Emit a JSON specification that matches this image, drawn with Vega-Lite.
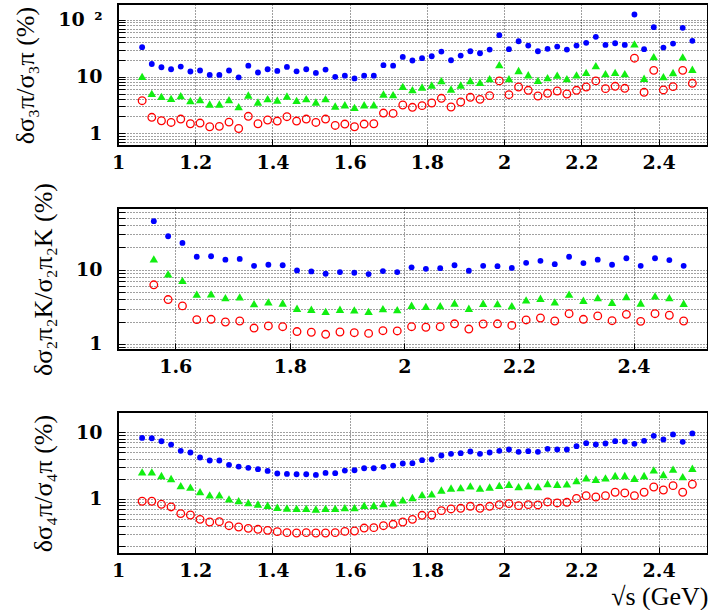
{
  "$schema": "https://vega.github.io/schema/vega-lite/v6.json",
  "padding": {"left": 11, "top": 3, "right": 0, "bottom": 0},
  "background": "white",
  "spacing": 62,
  "bounds": "flush",
  "config": {
    "view": {"stroke": "black", "strokeWidth": 2},
    "axis": {
      "domain": false, "ticks": true, "tickSize": -7, "tickColor": "black", "tickWidth": 1, "grid": true,
      "gridColor": "#000000", "gridDash": [1, 2], "gridWidth": 1, "gridOpacity": 0.75,
      "labelFont": "DejaVu Serif", "labelFontWeight": "bold", "labelFontSize": 19, "labelColor": "black",
      "titleFont": "Liberation Serif", "titleFontWeight": "normal", "titleFontSize": 26, "titleColor": "black",
      "labelOverlap": false, "labelFlush": false, "labelBound": false
    }
  },
  "datasets": {
    "p1": [
      {"x":1.0625,"s":"b","y":33},{"x":1.0875,"s":"b","y":16.7},{"x":1.1125,"s":"b","y":14.6},{"x":1.1375,"s":"b","y":13.5},{"x":1.1625,"s":"b","y":15.0},{"x":1.1875,"s":"b","y":12.3},{"x":1.2125,"s":"b","y":12.8},{"x":1.2375,"s":"b","y":10.7},{"x":1.2625,"s":"b","y":10.7},{"x":1.2875,"s":"b","y":12.8},
      {"x":1.3125,"s":"b","y":9.7},{"x":1.3375,"s":"b","y":15.6},{"x":1.3625,"s":"b","y":11.8},{"x":1.3875,"s":"b","y":13.5},{"x":1.4125,"s":"b","y":12.6},{"x":1.4375,"s":"b","y":14.8},{"x":1.4625,"s":"b","y":12.4},{"x":1.4875,"s":"b","y":13.5},{"x":1.5125,"s":"b","y":11.6},{"x":1.5375,"s":"b","y":13.3},
      {"x":1.5625,"s":"b","y":9.9},{"x":1.5875,"s":"b","y":10.4},{"x":1.6125,"s":"b","y":9.3},{"x":1.6375,"s":"b","y":10.4},{"x":1.6625,"s":"b","y":10.4},{"x":1.6875,"s":"b","y":15.9},{"x":1.7125,"s":"b","y":15.6},{"x":1.7375,"s":"b","y":22.2},{"x":1.7625,"s":"b","y":19.2},{"x":1.7875,"s":"b","y":21.1},
      {"x":1.8125,"s":"b","y":22.8},{"x":1.8375,"s":"b","y":27.6},{"x":1.8625,"s":"b","y":19.4},{"x":1.8875,"s":"b","y":23.5},{"x":1.9125,"s":"b","y":28},{"x":1.9375,"s":"b","y":25.8},{"x":1.9625,"s":"b","y":29.9},{"x":1.9875,"s":"b","y":53.6},{"x":2.0125,"s":"b","y":30.4},{"x":2.0375,"s":"b","y":42},
      {"x":2.0625,"s":"b","y":35.2},{"x":2.0875,"s":"b","y":28},{"x":2.1125,"s":"b","y":30.8},{"x":2.1375,"s":"b","y":33.8},{"x":2.1625,"s":"b","y":29.9},{"x":2.1875,"s":"b","y":35.2},{"x":2.2125,"s":"b","y":39.3},{"x":2.2375,"s":"b","y":50.1},{"x":2.2625,"s":"b","y":36.2},{"x":2.2875,"s":"b","y":38.7},
      {"x":2.3125,"s":"b","y":36.2},{"x":2.3375,"s":"b","y":124},{"x":2.3625,"s":"b","y":30.4},{"x":2.3875,"s":"b","y":74.2},{"x":2.4125,"s":"b","y":32.5},{"x":2.4375,"s":"b","y":38.2},{"x":2.4625,"s":"b","y":72.3},{"x":2.4875,"s":"b","y":42.6},
      {"x":1.0625,"s":"g","y":10.1},{"x":1.0875,"s":"g","y":5.08},{"x":1.1125,"s":"g","y":4.5},{"x":1.1375,"s":"g","y":4.15},{"x":1.1625,"s":"g","y":4.62},{"x":1.1875,"s":"g","y":3.77},{"x":1.2125,"s":"g","y":3.93},{"x":1.2375,"s":"g","y":3.29},{"x":1.2625,"s":"g","y":3.29},{"x":1.2875,"s":"g","y":3.93},
      {"x":1.3125,"s":"g","y":2.96},{"x":1.3375,"s":"g","y":4.75},{"x":1.3625,"s":"g","y":3.57},{"x":1.3875,"s":"g","y":4.09},{"x":1.4125,"s":"g","y":3.88},{"x":1.4375,"s":"g","y":4.56},{"x":1.4625,"s":"g","y":3.82},{"x":1.4875,"s":"g","y":4.09},{"x":1.5125,"s":"g","y":3.57},{"x":1.5375,"s":"g","y":4.09},
      {"x":1.5625,"s":"g","y":3.04},{"x":1.5875,"s":"g","y":3.2},{"x":1.6125,"s":"g","y":2.88},{"x":1.6375,"s":"g","y":3.2},{"x":1.6625,"s":"g","y":3.2},{"x":1.6875,"s":"g","y":4.94},{"x":1.7125,"s":"g","y":4.81},{"x":1.7375,"s":"g","y":6.75},{"x":1.7625,"s":"g","y":5.9},{"x":1.7875,"s":"g","y":6.57},
      {"x":1.8125,"s":"g","y":7.13},{"x":1.8375,"s":"g","y":8.5},{"x":1.8625,"s":"g","y":6.06},{"x":1.8875,"s":"g","y":7.13},{"x":1.9125,"s":"g","y":8.5},{"x":1.9375,"s":"g","y":7.94},{"x":1.9625,"s":"g","y":9.22},{"x":1.9875,"s":"g","y":16.3},{"x":2.0125,"s":"g","y":9.22},{"x":2.0375,"s":"g","y":12.8},
      {"x":2.0625,"s":"g","y":10.8},{"x":2.0875,"s":"g","y":8.6},{"x":2.1125,"s":"g","y":9.6},{"x":2.1375,"s":"g","y":10.6},{"x":2.1625,"s":"g","y":9.22},{"x":2.1875,"s":"g","y":10.7},{"x":2.2125,"s":"g","y":11.9},{"x":2.2375,"s":"g","y":15.6},{"x":2.2625,"s":"g","y":11.3},{"x":2.2875,"s":"g","y":11.9},
      {"x":2.3125,"s":"g","y":11.3},{"x":2.3375,"s":"g","y":37.7},{"x":2.3625,"s":"g","y":9.35},{"x":2.3875,"s":"g","y":22.5},{"x":2.4125,"s":"g","y":10},{"x":2.4375,"s":"g","y":11.8},{"x":2.4625,"s":"g","y":22.2},{"x":2.4875,"s":"g","y":13.5},
      {"x":1.0625,"s":"r","y":3.77},{"x":1.0875,"s":"r","y":1.92},{"x":1.1125,"s":"r","y":1.67},{"x":1.1375,"s":"r","y":1.56},{"x":1.1625,"s":"r","y":1.79},{"x":1.1875,"s":"r","y":1.48},{"x":1.2125,"s":"r","y":1.52},{"x":1.2375,"s":"r","y":1.31},{"x":1.2625,"s":"r","y":1.33},{"x":1.2875,"s":"r","y":1.58},
      {"x":1.3125,"s":"r","y":1.22},{"x":1.3375,"s":"r","y":2.0},{"x":1.3625,"s":"r","y":1.48},{"x":1.3875,"s":"r","y":1.72},{"x":1.4125,"s":"r","y":1.65},{"x":1.4375,"s":"r","y":1.97},{"x":1.4625,"s":"r","y":1.65},{"x":1.4875,"s":"r","y":1.79},{"x":1.5125,"s":"r","y":1.56},{"x":1.5375,"s":"r","y":1.79},
      {"x":1.5625,"s":"r","y":1.38},{"x":1.5875,"s":"r","y":1.46},{"x":1.6125,"s":"r","y":1.31},{"x":1.6375,"s":"r","y":1.46},{"x":1.6625,"s":"r","y":1.48},{"x":1.6875,"s":"r","y":2.28},{"x":1.7125,"s":"r","y":2.25},{"x":1.7375,"s":"r","y":3.16},{"x":1.7625,"s":"r","y":2.88},{"x":1.7875,"s":"r","y":3.08},
      {"x":1.8125,"s":"r","y":3.43},{"x":1.8375,"s":"r","y":4.15},{"x":1.8625,"s":"r","y":2.92},{"x":1.8875,"s":"r","y":3.57},{"x":1.9125,"s":"r","y":4.32},{"x":1.9375,"s":"r","y":3.98},{"x":1.9625,"s":"r","y":4.62},{"x":1.9875,"s":"r","y":8.4},{"x":2.0125,"s":"r","y":4.81},{"x":2.0375,"s":"r","y":6.57},
      {"x":2.0625,"s":"r","y":5.74},{"x":2.0875,"s":"r","y":4.56},{"x":2.1125,"s":"r","y":5.08},{"x":2.1375,"s":"r","y":5.58},{"x":2.1625,"s":"r","y":4.94},{"x":2.1875,"s":"r","y":5.74},{"x":2.2125,"s":"r","y":6.57},{"x":2.2375,"s":"r","y":8.4},{"x":2.2625,"s":"r","y":6.14},{"x":2.2875,"s":"r","y":6.75},
      {"x":2.3125,"s":"r","y":6.22},{"x":2.3375,"s":"r","y":21.1},{"x":2.3625,"s":"r","y":5.29},{"x":2.3875,"s":"r","y":12.9},{"x":2.4125,"s":"r","y":5.82},{"x":2.4375,"s":"r","y":6.66},{"x":2.4625,"s":"r","y":12.9},{"x":2.4875,"s":"r","y":7.62}
    ],
    "p2": [
      {"x":1.5625,"s":"b","y":45.2},{"x":1.5875,"s":"b","y":28.3},{"x":1.6125,"s":"b","y":23.0},{"x":1.6375,"s":"b","y":15.0},{"x":1.6625,"s":"b","y":15.2},{"x":1.6875,"s":"b","y":13.7},{"x":1.7125,"s":"b","y":14.0},{"x":1.7375,"s":"b","y":11.3},{"x":1.7625,"s":"b","y":11.7},{"x":1.7875,"s":"b","y":11.5},
      {"x":1.8125,"s":"b","y":9.8},{"x":1.8375,"s":"b","y":9.5},{"x":1.8625,"s":"b","y":8.84},{"x":1.8875,"s":"b","y":9.31},{"x":1.9125,"s":"b","y":9.12},{"x":1.9375,"s":"b","y":8.75},{"x":1.9625,"s":"b","y":9.6},{"x":1.9875,"s":"b","y":9.31},{"x":2.0125,"s":"b","y":10.8},{"x":2.0375,"s":"b","y":10.3},
      {"x":2.0625,"s":"b","y":10.5},{"x":2.0875,"s":"b","y":11.5},{"x":2.1125,"s":"b","y":9.7},{"x":2.1375,"s":"b","y":11.3},{"x":2.1625,"s":"b","y":11.2},{"x":2.1875,"s":"b","y":10.6},{"x":2.2125,"s":"b","y":12.4},{"x":2.2375,"s":"b","y":13.2},{"x":2.2625,"s":"b","y":11.9},{"x":2.2875,"s":"b","y":15.0},
      {"x":2.3125,"s":"b","y":12.3},{"x":2.3375,"s":"b","y":13.7},{"x":2.3625,"s":"b","y":11.7},{"x":2.3875,"s":"b","y":14.3},{"x":2.4125,"s":"b","y":11.3},{"x":2.4375,"s":"b","y":14.3},{"x":2.4625,"s":"b","y":13.5},{"x":2.4875,"s":"b","y":11.3},
      {"x":1.5625,"s":"g","y":14.0},{"x":1.5875,"s":"g","y":8.8},{"x":1.6125,"s":"g","y":7.2},{"x":1.6375,"s":"g","y":4.69},{"x":1.6625,"s":"g","y":4.74},{"x":1.6875,"s":"g","y":4.22},{"x":1.7125,"s":"g","y":4.31},{"x":1.7375,"s":"g","y":3.5},{"x":1.7625,"s":"g","y":3.69},{"x":1.7875,"s":"g","y":3.57},
      {"x":1.8125,"s":"g","y":3.03},{"x":1.8375,"s":"g","y":2.94},{"x":1.8625,"s":"g","y":2.75},{"x":1.8875,"s":"g","y":2.94},{"x":1.9125,"s":"g","y":2.88},{"x":1.9375,"s":"g","y":2.75},{"x":1.9625,"s":"g","y":3.0},{"x":1.9875,"s":"g","y":2.9},{"x":2.0125,"s":"g","y":3.33},{"x":2.0375,"s":"g","y":3.22},
      {"x":2.0625,"s":"g","y":3.29},{"x":2.0875,"s":"g","y":3.57},{"x":2.1125,"s":"g","y":3.03},{"x":2.1375,"s":"g","y":3.54},{"x":2.1625,"s":"g","y":3.5},{"x":2.1875,"s":"g","y":3.29},{"x":2.2125,"s":"g","y":3.93},{"x":2.2375,"s":"g","y":4.14},{"x":2.2625,"s":"g","y":3.69},{"x":2.2875,"s":"g","y":4.69},
      {"x":2.3125,"s":"g","y":3.88},{"x":2.3375,"s":"g","y":4.22},{"x":2.3625,"s":"g","y":3.65},{"x":2.3875,"s":"g","y":4.36},{"x":2.4125,"s":"g","y":3.57},{"x":2.4375,"s":"g","y":4.45},{"x":2.4625,"s":"g","y":4.22},{"x":2.4875,"s":"g","y":3.54},
      {"x":1.5625,"s":"r","y":6.27},{"x":1.5875,"s":"r","y":3.97},{"x":1.6125,"s":"r","y":3.26},{"x":1.6375,"s":"r","y":2.13},{"x":1.6625,"s":"r","y":2.15},{"x":1.6875,"s":"r","y":1.98},{"x":1.7125,"s":"r","y":2.04},{"x":1.7375,"s":"r","y":1.64},{"x":1.7625,"s":"r","y":1.75},{"x":1.7875,"s":"r","y":1.71},
      {"x":1.8125,"s":"r","y":1.47},{"x":1.8375,"s":"r","y":1.44},{"x":1.8625,"s":"r","y":1.35},{"x":1.8875,"s":"r","y":1.45},{"x":1.9125,"s":"r","y":1.42},{"x":1.9375,"s":"r","y":1.39},{"x":1.9625,"s":"r","y":1.51},{"x":1.9875,"s":"r","y":1.5},{"x":2.0125,"s":"r","y":1.71},{"x":2.0375,"s":"r","y":1.68},
      {"x":2.0625,"s":"r","y":1.71},{"x":2.0875,"s":"r","y":1.87},{"x":2.1125,"s":"r","y":1.59},{"x":2.1375,"s":"r","y":1.86},{"x":2.1625,"s":"r","y":1.87},{"x":2.1875,"s":"r","y":1.78},{"x":2.2125,"s":"r","y":2.11},{"x":2.2375,"s":"r","y":2.24},{"x":2.2625,"s":"r","y":2.04},{"x":2.2875,"s":"r","y":2.56},
      {"x":2.3125,"s":"r","y":2.15},{"x":2.3375,"s":"r","y":2.39},{"x":2.3625,"s":"r","y":2.06},{"x":2.3875,"s":"r","y":2.51},{"x":2.4125,"s":"r","y":2.02},{"x":2.4375,"s":"r","y":2.56},{"x":2.4625,"s":"r","y":2.44},{"x":2.4875,"s":"r","y":2.04}
    ],
    "p3": [
      {"x":1.0625,"s":"b","y":8.2},{"x":1.0875,"s":"b","y":8.1},{"x":1.1125,"s":"b","y":7.3},{"x":1.1375,"s":"b","y":6.5},{"x":1.1625,"s":"b","y":5.25},{"x":1.1875,"s":"b","y":4.95},{"x":1.2125,"s":"b","y":4.17},{"x":1.2375,"s":"b","y":3.76},{"x":1.2625,"s":"b","y":3.76},{"x":1.2875,"s":"b","y":3.24},
      {"x":1.3125,"s":"b","y":3.05},{"x":1.3375,"s":"b","y":2.92},{"x":1.3625,"s":"b","y":2.79},{"x":1.3875,"s":"b","y":2.63},{"x":1.4125,"s":"b","y":2.4},{"x":1.4375,"s":"b","y":2.37},{"x":1.4625,"s":"b","y":2.34},{"x":1.4875,"s":"b","y":2.34},{"x":1.5125,"s":"b","y":2.29},{"x":1.5375,"s":"b","y":2.45},
      {"x":1.5625,"s":"b","y":2.43},{"x":1.5875,"s":"b","y":2.66},{"x":1.6125,"s":"b","y":2.69},{"x":1.6375,"s":"b","y":2.88},{"x":1.6625,"s":"b","y":2.88},{"x":1.6875,"s":"b","y":3.02},{"x":1.7125,"s":"b","y":3.16},{"x":1.7375,"s":"b","y":3.39},{"x":1.7625,"s":"b","y":3.43},{"x":1.7875,"s":"b","y":3.8},
      {"x":1.8125,"s":"b","y":3.89},{"x":1.8375,"s":"b","y":4.47},{"x":1.8625,"s":"b","y":4.73},{"x":1.8875,"s":"b","y":4.84},{"x":1.9125,"s":"b","y":5.13},{"x":1.9375,"s":"b","y":4.73},{"x":1.9625,"s":"b","y":4.95},{"x":1.9875,"s":"b","y":5.25},{"x":2.0125,"s":"b","y":5.5},{"x":2.0375,"s":"b","y":5.07},
      {"x":2.0625,"s":"b","y":5.19},{"x":2.0875,"s":"b","y":5.07},{"x":2.1125,"s":"b","y":5.62},{"x":2.1375,"s":"b","y":5.5},{"x":2.1625,"s":"b","y":5.5},{"x":2.1875,"s":"b","y":6.17},{"x":2.2125,"s":"b","y":6.84},{"x":2.2375,"s":"b","y":6.53},{"x":2.2625,"s":"b","y":6.76},{"x":2.2875,"s":"b","y":7.33},
      {"x":2.3125,"s":"b","y":7.24},{"x":2.3375,"s":"b","y":6.68},{"x":2.3625,"s":"b","y":7.41},{"x":2.3875,"s":"b","y":8.81},{"x":2.4125,"s":"b","y":7.76},{"x":2.4375,"s":"b","y":9.23},{"x":2.4625,"s":"b","y":7.16},{"x":2.4875,"s":"b","y":9.55},
      {"x":1.0625,"s":"g","y":2.54},{"x":1.0875,"s":"g","y":2.54},{"x":1.1125,"s":"g","y":2.24},{"x":1.1375,"s":"g","y":2.02},{"x":1.1625,"s":"g","y":1.58},{"x":1.1875,"s":"g","y":1.5},{"x":1.2125,"s":"g","y":1.29},{"x":1.2375,"s":"g","y":1.15},{"x":1.2625,"s":"g","y":1.15},{"x":1.2875,"s":"g","y":1.0},
      {"x":1.3125,"s":"g","y":0.944},{"x":1.3375,"s":"g","y":0.881},{"x":1.3625,"s":"g","y":0.841},{"x":1.3875,"s":"g","y":0.804},{"x":1.4125,"s":"g","y":0.75},{"x":1.4375,"s":"g","y":0.733},{"x":1.4625,"s":"g","y":0.724},{"x":1.4875,"s":"g","y":0.724},{"x":1.5125,"s":"g","y":0.708},{"x":1.5375,"s":"g","y":0.724},
      {"x":1.5625,"s":"g","y":0.724},{"x":1.5875,"s":"g","y":0.741},{"x":1.6125,"s":"g","y":0.741},{"x":1.6375,"s":"g","y":0.804},{"x":1.6625,"s":"g","y":0.804},{"x":1.6875,"s":"g","y":0.851},{"x":1.7125,"s":"g","y":0.871},{"x":1.7375,"s":"g","y":0.966},{"x":1.7625,"s":"g","y":1.05},{"x":1.7875,"s":"g","y":1.16},
      {"x":1.8125,"s":"g","y":1.19},{"x":1.8375,"s":"g","y":1.36},{"x":1.8625,"s":"g","y":1.46},{"x":1.8875,"s":"g","y":1.48},{"x":1.9125,"s":"g","y":1.57},{"x":1.9375,"s":"g","y":1.45},{"x":1.9625,"s":"g","y":1.51},{"x":1.9875,"s":"g","y":1.6},{"x":2.0125,"s":"g","y":1.66},{"x":2.0375,"s":"g","y":1.53},
      {"x":2.0625,"s":"g","y":1.58},{"x":2.0875,"s":"g","y":1.53},{"x":2.1125,"s":"g","y":1.7},{"x":2.1375,"s":"g","y":1.66},{"x":2.1625,"s":"g","y":1.68},{"x":2.1875,"s":"g","y":1.88},{"x":2.2125,"s":"g","y":2.07},{"x":2.2375,"s":"g","y":1.97},{"x":2.2625,"s":"g","y":2.07},{"x":2.2875,"s":"g","y":2.24},
      {"x":2.3125,"s":"g","y":2.24},{"x":2.3375,"s":"g","y":2.04},{"x":2.3625,"s":"g","y":2.24},{"x":2.3875,"s":"g","y":2.72},{"x":2.4125,"s":"g","y":2.32},{"x":2.4375,"s":"g","y":2.79},{"x":2.4625,"s":"g","y":2.16},{"x":2.4875,"s":"g","y":2.88},
      {"x":1.0625,"s":"r","y":0.923},{"x":1.0875,"s":"r","y":0.923},{"x":1.1125,"s":"r","y":0.832},{"x":1.1375,"s":"r","y":0.759},{"x":1.1625,"s":"r","y":0.603},{"x":1.1875,"s":"r","y":0.575},{"x":1.2125,"s":"r","y":0.495},{"x":1.2375,"s":"r","y":0.452},{"x":1.2625,"s":"r","y":0.457},{"x":1.2875,"s":"r","y":0.398},
      {"x":1.3125,"s":"r","y":0.38},{"x":1.3375,"s":"r","y":0.363},{"x":1.3625,"s":"r","y":0.351},{"x":1.3875,"s":"r","y":0.339},{"x":1.4125,"s":"r","y":0.324},{"x":1.4375,"s":"r","y":0.313},{"x":1.4625,"s":"r","y":0.309},{"x":1.4875,"s":"r","y":0.313},{"x":1.5125,"s":"r","y":0.309},{"x":1.5375,"s":"r","y":0.309},
      {"x":1.5625,"s":"r","y":0.313},{"x":1.5875,"s":"r","y":0.327},{"x":1.6125,"s":"r","y":0.331},{"x":1.6375,"s":"r","y":0.367},{"x":1.6625,"s":"r","y":0.372},{"x":1.6875,"s":"r","y":0.398},{"x":1.7125,"s":"r","y":0.417},{"x":1.7375,"s":"r","y":0.452},{"x":1.7625,"s":"r","y":0.495},{"x":1.7875,"s":"r","y":0.569},
      {"x":1.8125,"s":"r","y":0.575},{"x":1.8375,"s":"r","y":0.668},{"x":1.8625,"s":"r","y":0.708},{"x":1.8875,"s":"r","y":0.724},{"x":1.9125,"s":"r","y":0.776},{"x":1.9375,"s":"r","y":0.724},{"x":1.9625,"s":"r","y":0.776},{"x":1.9875,"s":"r","y":0.822},{"x":2.0125,"s":"r","y":0.851},{"x":2.0375,"s":"r","y":0.794},
      {"x":2.0625,"s":"r","y":0.822},{"x":2.0875,"s":"r","y":0.813},{"x":2.1125,"s":"r","y":0.902},{"x":2.1375,"s":"r","y":0.871},{"x":2.1625,"s":"r","y":0.891},{"x":2.1875,"s":"r","y":1.02},{"x":2.2125,"s":"r","y":1.12},{"x":2.2375,"s":"r","y":1.07},{"x":2.2625,"s":"r","y":1.12},{"x":2.2875,"s":"r","y":1.26},
      {"x":2.3125,"s":"r","y":1.23},{"x":2.3375,"s":"r","y":1.12},{"x":2.3625,"s":"r","y":1.26},{"x":2.3875,"s":"r","y":1.51},{"x":2.4125,"s":"r","y":1.36},{"x":2.4375,"s":"r","y":1.58},{"x":2.4625,"s":"r","y":1.26},{"x":2.4875,"s":"r","y":1.66}
    ]
  },
  "vconcat": [
    {
      "width": 590, "height": 142,
      "data": {"name": "p1"},
      "encoding": {
        "x": {"field": "x", "type": "quantitative", "scale": {"domain": [1, 2.528], "nice": false, "zero": false},
              "axis": {"values": [1, 1.2, 1.4, 1.6, 1.8, 2, 2.2, 2.4], "title": null, "format": "~g", "labelPadding": 14}},
        "y": {"field": "y", "type": "quantitative", "scale": {"type": "log", "domain": [0.6, 190], "nice": false},
              "axis": {"values": [0.6, 0.7, 0.8, 0.9, 1, 2, 3, 4, 5, 6, 7, 8, 9, 10, 20, 30, 40, 50, 60, 70, 80, 90, 100],
                       "title": "δσ₃π/σ₃π (%)", "labelPadding": 23, "titlePadding": 19,
                       "labelExpr": "datum.value == 100 ? '10\u2002\u00b2' : (datum.value == 10 ? '10\u2003' : (datum.value == 1 ? '1\u2003' : ''))"}}
      },
      "layer": [
        {"transform": [{"filter": "datum.s == 'r'"}], "mark": {"type": "point", "shape": "circle", "filled": false, "color": "#ff0000", "size": 58, "strokeWidth": 1.3, "opacity": 1}},
        {"transform": [{"filter": "datum.s == 'g'"}], "mark": {"type": "point", "shape": "triangle-up", "filled": true, "color": "#11ee11", "size": 72, "opacity": 1}},
        {"transform": [{"filter": "datum.s == 'b'"}], "mark": {"type": "point", "shape": "circle", "filled": true, "color": "#0000ff", "size": 34, "opacity": 1}}
      ]
    },
    {
      "width": 590, "height": 142,
      "data": {"name": "p2"},
      "encoding": {
        "x": {"field": "x", "type": "quantitative", "scale": {"domain": [1.5, 2.53], "nice": false, "zero": false},
              "axis": {"values": [1.6, 1.8, 2, 2.2, 2.4], "title": null, "format": "~g", "labelPadding": 14}},
        "y": {"field": "y", "type": "quantitative", "scale": {"type": "log", "domain": [0.83, 68], "nice": false},
              "axis": {"values": [0.9, 1, 2, 3, 4, 5, 6, 7, 8, 9, 10, 20, 30, 40, 50, 60],
                       "title": "δσ₂π₂K/σ₂π₂K (%)", "labelPadding": 23, "titlePadding": 19,
                       "labelExpr": "datum.value == 10 ? '10\u2003' : (datum.value == 1 ? '1\u2003' : '')"}}
      },
      "layer": [
        {"transform": [{"filter": "datum.s == 'r'"}], "mark": {"type": "point", "shape": "circle", "filled": false, "color": "#ff0000", "size": 58, "strokeWidth": 1.3, "opacity": 1}},
        {"transform": [{"filter": "datum.s == 'g'"}], "mark": {"type": "point", "shape": "triangle-up", "filled": true, "color": "#11ee11", "size": 72, "opacity": 1}},
        {"transform": [{"filter": "datum.s == 'b'"}], "mark": {"type": "point", "shape": "circle", "filled": true, "color": "#0000ff", "size": 34, "opacity": 1}}
      ]
    },
    {
      "width": 590, "height": 142,
      "data": {"name": "p3"},
      "encoding": {
        "x": {"field": "x", "type": "quantitative", "scale": {"domain": [1, 2.528], "nice": false, "zero": false},
              "axis": {"values": [1, 1.2, 1.4, 1.6, 1.8, 2, 2.2, 2.4], "title": "√s (GeV)", "titleAnchor": "end", "titlePadding": 3, "format": "~g", "labelPadding": 14}},
        "y": {"field": "y", "type": "quantitative", "scale": {"type": "log", "domain": [0.15, 20], "nice": false},
              "axis": {"values": [0.2, 0.3, 0.4, 0.5, 0.6, 0.7, 0.8, 0.9, 1, 2, 3, 4, 5, 6, 7, 8, 9, 10, 20],
                       "title": "δσ₄π/σ₄π (%)", "labelPadding": 23, "titlePadding": 19,
                       "labelExpr": "datum.value == 10 ? '10\u2003' : (datum.value == 1 ? '1\u2003' : '')"}}
      },
      "layer": [
        {"transform": [{"filter": "datum.s == 'r'"}], "mark": {"type": "point", "shape": "circle", "filled": false, "color": "#ff0000", "size": 58, "strokeWidth": 1.3, "opacity": 1}},
        {"transform": [{"filter": "datum.s == 'g'"}], "mark": {"type": "point", "shape": "triangle-up", "filled": true, "color": "#11ee11", "size": 72, "opacity": 1}},
        {"transform": [{"filter": "datum.s == 'b'"}], "mark": {"type": "point", "shape": "circle", "filled": true, "color": "#0000ff", "size": 34, "opacity": 1}}
      ]
    }
  ]
}
